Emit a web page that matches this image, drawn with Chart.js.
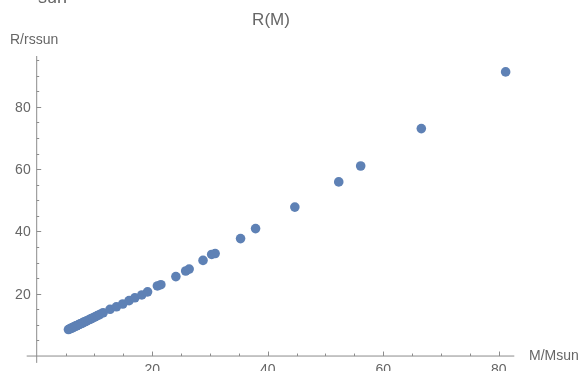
<!DOCTYPE html>
<html>
<head>
<meta charset="utf-8">
<script src="https://cdn.jsdelivr.net/npm/chart.js@4/dist/chart.umd.min.js"></script>
<style>
  html, body { margin: 0; padding: 0; background: #ffffff; }
  #wrap { width: 583px; height: 371px; position: relative; }
</style>
</head>
<body>
<div id="wrap"><canvas id="chart" width="583" height="371"></canvas></div>
<script>
// R(M) values
const massValues = [
  5.5, 5.7, 5.9, 6.1, 6.3, 6.5, 6.7, 6.9, 7.1, 7.3, 7.5, 7.7, 7.9, 8.1, 8.3,
  8.6, 8.9, 9.2, 9.5, 9.8, 10.1, 10.5, 10.9, 11.5, 12.7, 13.8, 14.9, 16.0,
  17.0, 18.2, 19.2, 20.9, 21.5, 24.1, 25.8, 26.4, 28.8, 30.3, 30.9, 35.3,
  37.9, 44.7, 52.3, 56.1, 66.6, 81.2
];
const radiusValues = [
  8.5, 8.7, 8.9, 9.0, 9.2, 9.4, 9.6, 9.7, 9.9, 10.1, 10.3, 10.4, 10.6, 10.8, 11.0,
  11.2, 11.5, 11.8, 12.0, 12.3, 12.6, 13.0, 13.3, 13.9, 15.0, 15.8, 16.7, 17.8,
  18.7, 19.6, 20.6, 22.5, 22.9, 25.5, 27.3, 27.9, 30.7, 32.6, 32.9, 37.7,
  40.9, 47.8, 55.9, 61.0, 73.0, 91.2
];
const xTicks = [20, 40, 60, 80];
const yTicks = [20, 40, 60, 80];
const xMinorTicks = [5, 10, 15, 25, 30, 35, 45, 50, 55, 65, 70, 75];
const yMinorTicks = [5, 10, 15, 25, 30, 35, 45, 50, 55, 65, 70, 75, 85, 90, 95];

const POINT_COLOR = '#5e81b5';
const AXIS_COLOR = '#8c8c8c';
const TEXT_COLOR = '#666666';
const FONT = '"Liberation Sans", Arial, sans-serif';

// Mathematica style axes crossing at the origin, ticks pointing inward
const originAxes = {
  id: 'originAxes',
  beforeDatasetsDraw(chart) {
    const { ctx, chartArea, scales: { x, y } } = chart;
    const x0 = x.getPixelForValue(0);
    const y0 = y.getPixelForValue(0);
    ctx.save();
    ctx.strokeStyle = AXIS_COLOR;
    ctx.lineWidth = 1;
    ctx.beginPath();
    ctx.moveTo(chartArea.left, y0);
    ctx.lineTo(chartArea.right, y0);
    ctx.moveTo(x0, chartArea.top);
    ctx.lineTo(x0, chartArea.bottom);
    xTicks.forEach(v => {
      const px = Math.round(x.getPixelForValue(v)) + 0.5;
      ctx.moveTo(px, y0); ctx.lineTo(px, y0 - 4.5);
    });
    xMinorTicks.forEach(v => {
      const px = Math.round(x.getPixelForValue(v)) + 0.5;
      ctx.moveTo(px, y0); ctx.lineTo(px, y0 - 2.5);
    });
    yTicks.forEach(v => {
      const py = Math.round(y.getPixelForValue(v)) + 0.5;
      ctx.moveTo(x0, py); ctx.lineTo(x0 + 4.5, py);
    });
    yMinorTicks.forEach(v => {
      const py = Math.round(y.getPixelForValue(v)) + 0.5;
      ctx.moveTo(x0, py); ctx.lineTo(x0 + 2.5, py);
    });
    ctx.stroke();
    ctx.restore();
  },
  afterDraw(chart) {
    const { ctx, scales: { x, y } } = chart;
    const x0 = x.getPixelForValue(0);
    const y0 = y.getPixelForValue(0);
    ctx.save();
    ctx.fillStyle = TEXT_COLOR;
    ctx.font = '14px ' + FONT;
    ctx.textAlign = 'center';
    ctx.textBaseline = 'alphabetic';
    xTicks.forEach(v => ctx.fillText(String(v), x.getPixelForValue(v), y0 + 17.5));
    ctx.textAlign = 'right';
    yTicks.forEach(v => ctx.fillText(String(v), x0 - 6, y.getPixelForValue(v) + 5));

    ctx.textAlign = 'left';
    ctx.fillText('R/rssun', 10, 44);
    ctx.fillText('M/Msun', 529, 360);

    ctx.textAlign = 'center';
    ctx.font = '17px ' + FONT;
    ctx.fillText('R(M)', 271, 24.5);

    ctx.textAlign = 'left';
    ctx.font = '18px ' + FONT;
    ctx.fillText('sun', 38, 3);
    ctx.restore();
  }
};

new Chart(document.getElementById('chart'), {
  type: 'scatter',
  data: {
    datasets: [{
      label: 'R(M)',
      data: massValues.map((m, i) => ({ x: m, y: radiusValues[i] })),
      backgroundColor: POINT_COLOR,
      borderColor: POINT_COLOR,
      borderWidth: 0,
      pointRadius: 4.8,
      pointHoverRadius: 4.8
    }]
  },
  options: {
    responsive: false,
    animation: false,
    layout: { padding: { left: 26.7, right: 68.7, top: 56, bottom: 8.1 } },
    plugins: {
      legend: { display: false },
      title: { display: false },
      tooltip: { enabled: false }
    },
    scales: {
      x: { type: 'linear', min: -1.73, max: 82.7, display: false },
      y: { type: 'linear', min: -2.2, max: 96.3, display: false }
    }
  },
  plugins: [originAxes]
});
</script>
</body>
</html>
